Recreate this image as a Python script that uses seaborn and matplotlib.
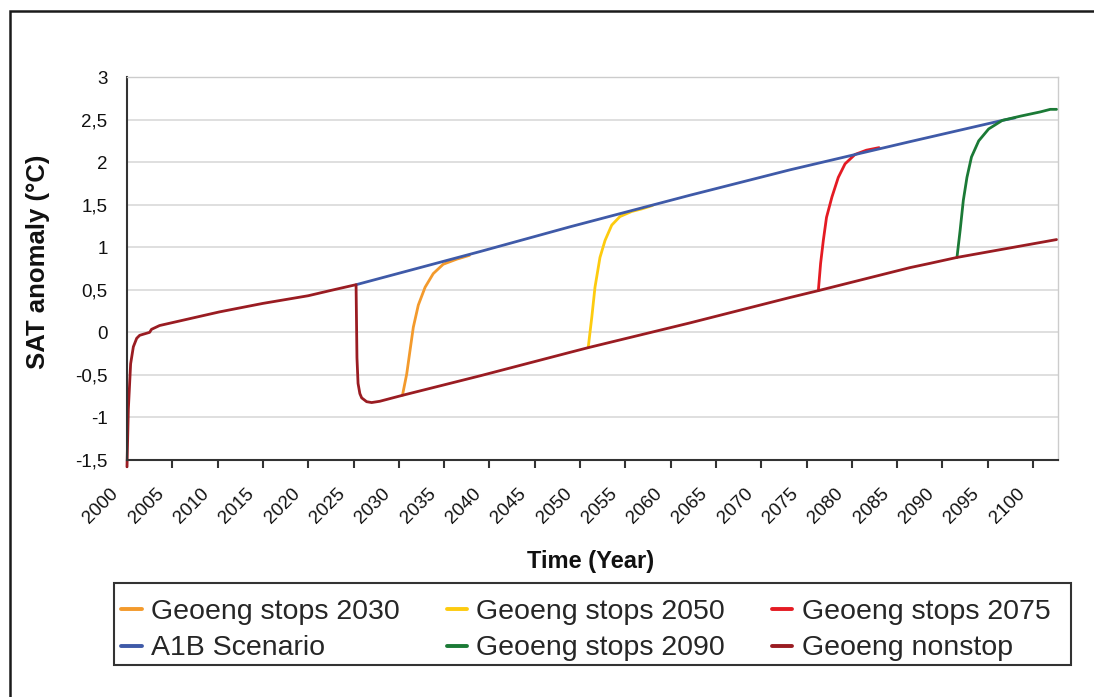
import matplotlib
matplotlib.use("Agg")
import matplotlib.pyplot as plt
import matplotlib.transforms as mtransforms
import seaborn as sns
import pandas as pd
from matplotlib.patches import Rectangle
from matplotlib.lines import Line2D

# ---- data ----
nonstop_year = [2000.0, 2000.15, 2000.4, 2000.7, 2001.07, 2001.4, 2002.5, 2002.7, 2003.6,
                2010.2, 2015.0, 2020.0, 2022.4, 2025.28, 2025.38, 2025.5, 2025.7, 2025.9,
                2026.45, 2027.0, 2027.9, 2030.4, 2039.0, 2048.9, 2050.9, 2062.1, 2073.2,
                2076.3, 2086.4, 2088.6, 2091.6, 2102.6]
nonstop_val = [-1.58, -0.9, -0.37, -0.17, -0.07, -0.035, 0.0, 0.035, 0.08,
               0.24, 0.34, 0.43, 0.49, 0.56, -0.3, -0.6, -0.72, -0.77,
               -0.815, -0.825, -0.81, -0.74, -0.51, -0.235, -0.18, 0.11, 0.41,
               0.49, 0.76, 0.81, 0.88, 1.09]

a1b_year = [2025.3, 2039.0, 2048.9, 2062.1, 2073.2, 2086.4, 2096.6, 2098.0]
a1b_val = [0.56, 0.95, 1.24, 1.61, 1.91, 2.24, 2.49, 2.52]

stop2030_year = [2030.4, 2030.87, 2031.24, 2031.6, 2032.15, 2032.9, 2033.8, 2034.9, 2036.4, 2037.8]
stop2030_val = [-0.74, -0.49, -0.21, 0.06, 0.32, 0.53, 0.69, 0.80, 0.86, 0.905]

stop2050_year = [2050.9, 2051.3, 2051.65, 2052.2, 2052.76, 2053.5, 2054.4, 2055.7, 2056.8, 2058.0]
stop2050_val = [-0.18, 0.18, 0.53, 0.88, 1.08, 1.26, 1.36, 1.42, 1.45, 1.49]

stop2075_year = [2076.3, 2076.55, 2076.85, 2077.2, 2077.8, 2078.5, 2079.25, 2080.35, 2081.6, 2083.0]
stop2075_val = [0.49, 0.81, 1.08, 1.35, 1.59, 1.82, 1.98, 2.09, 2.14, 2.17]

stop2090_year = [2091.6, 2091.95, 2092.3, 2092.7, 2093.2, 2094.0, 2095.1, 2096.6, 2098.6,
                 2100.8, 2101.9, 2102.6]
stop2090_val = [0.88, 1.2, 1.55, 1.82, 2.06, 2.25, 2.39, 2.49, 2.54, 2.59, 2.62, 2.62]

x_ticks = list(range(2000, 2101, 5))
x_tick_labels = [str(t) for t in x_ticks]
y_ticks = [-1.5, -1, -0.5, 0, 0.5, 1, 1.5, 2, 2.5, 3]
y_tick_labels = ["-1,5", "-1", "-0,5", "0", "0,5", "1", "1,5", "2", "2,5", "3"]

series_names = ["Geoeng stops 2030", "A1B Scenario", "Geoeng stops 2050",
                "Geoeng stops 2090", "Geoeng stops 2075", "Geoeng nonstop"]
colors = {
    "Geoeng stops 2030": "#F39A2C",
    "Geoeng stops 2050": "#FDCB0F",
    "Geoeng stops 2075": "#E41B23",
    "A1B Scenario": "#3F5AA8",
    "Geoeng stops 2090": "#1B7A36",
    "Geoeng nonstop": "#9A1C22",
}

# ---- style ----
sns.set_theme(style="white")
plt.rcParams["font.family"] = ["Liberation Sans", "DejaVu Sans"]

W, H = 1094, 697
fig = plt.figure(figsize=(W / 100, H / 100), dpi=100)
ax = fig.add_axes([127 / W, 1 - 460 / H, (1058 - 127) / W, (460 - 77) / H])

draw_order = [
    ("Geoeng stops 2030", stop2030_year, stop2030_val),
    ("Geoeng stops 2050", stop2050_year, stop2050_val),
    ("Geoeng stops 2075", stop2075_year, stop2075_val),
    ("A1B Scenario", a1b_year, a1b_val),
    ("Geoeng stops 2090", stop2090_year, stop2090_val),
    ("Geoeng nonstop", nonstop_year, nonstop_val),
]
for name, xs, ys in draw_order:
    df = pd.DataFrame({"Year": xs, "SAT": ys})
    sns.lineplot(data=df, x="Year", y="SAT", ax=ax, color=colors[name], lw=2.0,
                 sort=False, estimator=None, legend=False, clip_on=False)

ax.set_xlim(2000, 2102.75)
ax.set_ylim(-1.5, 3)
ax.set_xticks(x_ticks)
ax.set_xticklabels([])
# rotated x tick labels placed as text on the x-axis transform
lab_off = mtransforms.ScaledTranslation(-17 / 100, -25 / 100, fig.dpi_scale_trans)
for t, lab in zip(x_ticks, x_tick_labels):
    ax.text(t, 0, lab, transform=ax.get_xaxis_transform() + lab_off, rotation=45,
            ha="right", va="top", rotation_mode="anchor", fontsize=13.5, color="#111111")
ax.set_yticks(y_ticks)
ax.set_yticklabels(y_tick_labels, fontsize=13.5, color="#111111")
ax.tick_params(axis="x", direction="out", length=6, width=1.5, color="#333333", pad=6,
               bottom=True)
ax.tick_params(axis="y", length=0, pad=14)
ax.grid(axis="y", color="#d9d9d9", lw=1.2)
ax.grid(axis="x", visible=False)
for s in ["top", "right"]:
    ax.spines[s].set_color("#cccccc")
    ax.spines[s].set_linewidth(1.0)
for s in ["left", "bottom"]:
    ax.spines[s].set_color("#333333")
    ax.spines[s].set_linewidth(1.5)
ax.set_axisbelow(True)

ax.set_xlabel("Time (Year)", fontsize=17, fontweight="bold", color="#111111")
ax.set_ylabel("SAT anomaly (°C)", fontsize=18.5, fontweight="bold", color="#111111")
ax.xaxis.set_label_coords((591 - 127) / (1058 - 127), -(550 - 460) / (460 - 77))
ax.yaxis.set_label_coords(-(127 - 50) / (1058 - 127), (460 - 262) / (460 - 77))

# legend (frame drawn separately)
handles = [Line2D([0], [0], color=colors[n], lw=2.8) for n in series_names]
fig.legend(handles, series_names, loc="upper left", ncol=3,
           bbox_to_anchor=(107 / W, 1 - 585 / H),
           fontsize=20.5, frameon=False,
           handlelength=0.72, handletextpad=0.32, labelspacing=0.36,
           columnspacing=1.65, borderpad=0.5, borderaxespad=0.0)
fig.patches.append(Rectangle((114 / W, 1 - 665 / H), (1071 - 114) / W, (665 - 583) / H,
                             transform=fig.transFigure, fill=False,
                             edgecolor="#333333", lw=1.5))

# outer frame
fig.patches.append(Rectangle((10 / W, -0.1), 1.2, 1 - 11 / H + 0.1, transform=fig.transFigure,
                             fill=False, edgecolor="#1a1a1a", lw=1.8, clip_on=False))

fig.savefig("out.png", dpi=100)
